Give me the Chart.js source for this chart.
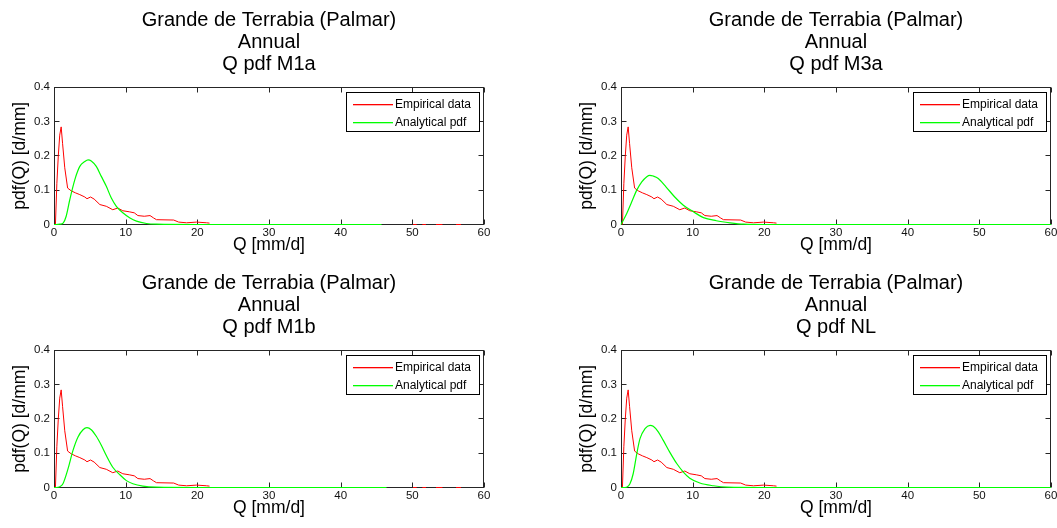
<!DOCTYPE html>
<html>
<head>
<meta charset="utf-8">
<title>Q pdf - Grande de Terrabia (Palmar)</title>
<script src="https://cdn.jsdelivr.net/npm/chart.js@4"></script>
<style>
  body { margin: 0; background: #fff; }
  #wrap { position: relative; width: 1057px; height: 528px; overflow: hidden; }
  canvas { position: absolute; }
</style>
</head>
<body>
<div id="wrap">
  <canvas id="c1" width="490" height="263" style="left:0px;top:0px"></canvas>
  <canvas id="c2" width="490" height="263" style="left:567px;top:0px"></canvas>
  <canvas id="c3" width="490" height="263" style="left:0px;top:263px"></canvas>
  <canvas id="c4" width="490" height="263" style="left:567px;top:263px"></canvas>
</div>
<script>
// titles / labels
const stationName = 'Grande de Terrabia (Palmar)';
const periodName = 'Annual';
const modelNames = ['M1a', 'M3a', 'M1b', 'NL'];
const seriesNames = ['Empirical data', 'Analytical pdf'];
const seriesColors = ['#ff0000', '#00ff00'];
const xTitle = 'Q [mm/d]';
const yTitle = 'pdf(Q) [d/mm]';

// tick values and labels
const xTickValues = [0, 10, 20, 30, 40, 50, 60];
const yTickValues = [0, 0.1, 0.2, 0.3, 0.4];
const yTickLabels = ['0', '0.1', '0.2', '0.3', '0.4'];

// empirical pdf (same in every panel), null = gap in the line
const empQ   = [0.2, 0.4, 0.6, 0.8, 1.0, 1.2, 1.5, 1.9, 2.4, 3.0, 3.6, 4.3, 4.6, 5.1, 5.6, 6.0, 6.4, 7.3, 8.2, 8.9, 9.6, 10.5, 11.2, 11.7, 12.6, 13.4, 13.9, 14.3, 16.7, 17.4, 18.5, 19.9, 21.3, 21.7, 22.0, 50.1, 50.6, 51.0, 51.4, 51.9, 52.5, 53.3, 54.2, 55.0, 56.1, 56.8];
const empPdf = [0, 0.12, 0.2, 0.26, 0.284, 0.235, 0.165, 0.106, 0.098, 0.092, 0.087, 0.08, 0.075, 0.08, 0.074, 0.066, 0.058, 0.053, 0.043, 0.048, 0.04, 0.037, 0.034, 0.026, 0.024, 0.026, 0.019, 0.014, 0.013, 0.007, 0.005, 0.007, 0.005, 0.004, null, 0, 0, null, 0, 0, null, 0, 0, null, 0, 0];

// analytical pdf, one per model
const m1aQ   = [0, 0.3, 0.8, 1.3, 1.7, 2.2, 2.9, 3.6, 4.3, 4.75, 5.2, 5.9, 6.6, 7.3, 8.0, 8.7, 9.6, 10.6, 11.5, 12.9, 14.3, 20, 30, 40, 45.7];
const m1aPdf = [0, 0, 0.001, 0.005, 0.024, 0.072, 0.13, 0.169, 0.183, 0.188, 0.185, 0.169, 0.14, 0.111, 0.077, 0.053, 0.034, 0.019, 0.01, 0.003, 0.001, 0, 0, 0, 0];

const m3aQ   = [0, 0.8, 1.5, 2.2, 2.9, 3.6, 4.0, 4.5, 5.2, 6.3, 7.5, 8.7, 10.1, 11.5, 13.3, 15.2, 17.1, 20, 30, 40, 50, 60];
const m3aPdf = [0, 0.032, 0.066, 0.1, 0.124, 0.139, 0.143, 0.141, 0.134, 0.109, 0.08, 0.056, 0.037, 0.02, 0.011, 0.005, 0.001, 0, 0, 0, 0, 0];

const m1bQ   = [0, 0.3, 0.8, 1.25, 1.95, 2.65, 3.35, 4.05, 4.6, 5.2, 5.9, 6.6, 7.3, 8.2, 9.2, 10.1, 11.0, 12.4, 14.3, 20, 30, 40, 46.4];
const m1bPdf = [0, 0, 0.002, 0.011, 0.054, 0.108, 0.147, 0.168, 0.174, 0.168, 0.149, 0.123, 0.093, 0.059, 0.037, 0.02, 0.011, 0.004, 0.001, 0, 0, 0, 0];

const nlQ   = [0, 0.56, 1.25, 1.7, 2.2, 2.65, 3.35, 4.05, 4.5, 5.2, 5.9, 6.8, 7.8, 8.7, 9.6, 11.0, 12.9, 14.8, 20, 30, 40, 50, 60];
const nlPdf = [0, 0, 0.011, 0.04, 0.098, 0.142, 0.171, 0.181, 0.178, 0.162, 0.137, 0.103, 0.069, 0.045, 0.027, 0.013, 0.005, 0.001, 0, 0, 0, 0, 0];

const fitQ = [m1aQ, m3aQ, m1bQ, nlQ];
const fitPdf = [m1aPdf, m3aPdf, m1bPdf, nlPdf];

Chart.defaults.font.family = '"Liberation Sans", Arial, Helvetica, sans-serif';
Chart.defaults.color = '#000';

function toPoints(xs, ys) {
    return xs.map(function(x, i) { return {x: x, y: ys[i]}; });
}

// matlab style box with inward ticks on all 4 sides
const boxTicks = {
    id: 'boxTicks',
    beforeDatasetsDraw(chart) {
        const ctx = chart.ctx;
        const a = chart.chartArea;
        const l = Math.round(a.left) + 0.5, r = Math.round(a.right) - 0.5;
        const t = Math.round(a.top) + 0.5, b = Math.floor(a.bottom) + 0.5;
        const len = 5;
        ctx.save();
        ctx.strokeStyle = '#262626';
        ctx.lineWidth = 1;
        ctx.strokeRect(l, t, r - l, b - t);
        ctx.beginPath();
        chart.scales.x.ticks.forEach(function(tk) {
            const px = Math.round(chart.scales.x.getPixelForValue(tk.value)) + 0.5;
            ctx.moveTo(px, b); ctx.lineTo(px, b - len);
            ctx.moveTo(px, t); ctx.lineTo(px, t + len);
        });
        chart.scales.y.ticks.forEach(function(tk) {
            const py = Math.floor(chart.scales.y.getPixelForValue(tk.value)) + 0.5;
            ctx.moveTo(l, py); ctx.lineTo(l + len, py);
            ctx.moveTo(r, py); ctx.lineTo(r - len, py);
        });
        ctx.stroke();
        ctx.restore();
    }
};

// legend box inside the top right corner of the axes
const insideLegend = {
    id: 'insideLegend',
    afterDatasetsDraw(chart) {
        const ctx = chart.ctx;
        const a = chart.chartArea;
        const w = 133, h = 39;
        const x = Math.round(a.right) - w - 5, y = Math.round(a.top) + 5;
        ctx.save();
        ctx.fillStyle = '#fff';
        ctx.fillRect(x, y, w, h);
        ctx.strokeStyle = '#000';
        ctx.lineWidth = 1;
        ctx.strokeRect(x + 0.5, y + 0.5, w, h);
        ctx.font = '12px "Liberation Sans", Arial, sans-serif';
        ctx.textBaseline = 'middle';
        for (let i = 0; i < seriesNames.length; i++) {
            const ly = y + 12 + i * 18;
            // sample line
            ctx.fillStyle = seriesColors[i];
            ctx.fillRect(x + 7, ly, 40, 1.3);
            ctx.fillStyle = '#000';
            ctx.fillText(seriesNames[i], x + 49, ly + 0.5);
        }
        ctx.restore();
    }
};

function makePanel(id, k) {
    new Chart(document.getElementById(id), {
        type: 'line',
        data: {
            datasets: [
                {
                    label: seriesNames[0],
                    data: toPoints(empQ, empPdf),
                    borderColor: seriesColors[0],
                    borderWidth: 1,
                    pointRadius: 0,
                    tension: 0,
                    spanGaps: false,
                    clip: 3,
                    order: 1
                },
                {
                    label: seriesNames[1],
                    data: toPoints(fitQ[k], fitPdf[k]),
                    borderColor: seriesColors[1],
                    borderWidth: 1.2,
                    pointRadius: 0,
                    cubicInterpolationMode: 'monotone',
                    clip: 3,
                    order: 0
                }
            ]
        },
        options: {
            responsive: false,
            animation: false,
            devicePixelRatio: 1,
            layout: { padding: { left: 0, right: 6, top: 0, bottom: 0 } },
            plugins: {
                legend: { display: false },
                tooltip: { enabled: false },
                title: {
                    display: true,
                    fullSize: false,
                    text: [stationName, periodName, 'Q pdf ' + modelNames[k]],
                    color: '#000',
                    font: { size: 20, weight: 'normal', lineHeight: '22px' },
                    padding: { top: 9, bottom: 12 }
                }
            },
            scales: {
                x: {
                    type: 'linear',
                    min: 0,
                    max: 60,
                    grid: { display: false, drawTicks: false },
                    border: { display: false },
                    afterBuildTicks: function(s) { s.ticks = xTickValues.map(function(v) { return {value: v}; }); },
                    afterFit: function(s) { s.height = 38.5; s.paddingLeft = 0; s.paddingRight = 0; },
                    ticks: { padding: 1, font: { size: 11.5 }, color: '#111', maxRotation: 0 },
                    title: { display: true, text: xTitle, font: { size: 17.5 }, color: '#000', padding: { top: 0, bottom: 7 } }
                },
                y: {
                    type: 'linear',
                    min: 0,
                    max: 0.4,
                    grid: { display: false, drawTicks: false },
                    border: { display: false },
                    afterBuildTicks: function(s) { s.ticks = yTickValues.map(function(v) { return {value: v}; }); },
                    afterFit: function(s) { s.width = 54; s.paddingTop = 0; s.paddingBottom = 0; },
                    ticks: {
                        padding: 4,
                        font: { size: 11.5 },
                        color: '#111',
                        callback: function(v, i) { return yTickLabels[i]; }
                    },
                    title: { display: true, text: yTitle, font: { size: 17.5 }, color: '#000', padding: { top: 10, bottom: 0 } }
                }
            }
        },
        plugins: [boxTicks, insideLegend]
    });
}

makePanel('c1', 0);
makePanel('c2', 1);
makePanel('c3', 2);
makePanel('c4', 3);
</script>
</body>
</html>
